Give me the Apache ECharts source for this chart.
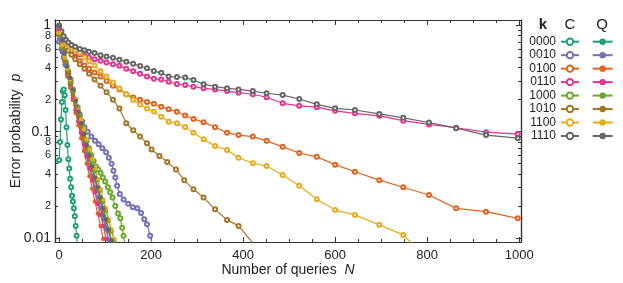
<!DOCTYPE html>
<html>
<head>
<meta charset="utf-8">
<script src="https://cdn.jsdelivr.net/npm/echarts@6/dist/echarts.min.js"></script>
<style>
  html, body { margin: 0; padding: 0; background: #fff; }
  #main { width: 623px; height: 283px; }
</style>
</head>
<body>
<div id="main"></div>
<script>
// k codes and colours (C = hollow markers, Q = filled)
var kCodes = ['0000', '0010', '0100', '0110', '1000', '1010', '1100', '1110'];
var colors = ['#1f9e78', '#7670b5', '#df6420', '#e3338e', '#6aa82c', '#a47524', '#e6ac1c', '#666666'];

// tick values
var xMajor = [0, 200, 400, 600, 800, 1000];
var xMinor = [0, 50, 100, 150, 200, 250, 300, 350, 400, 450, 500, 550, 600, 650, 700, 750, 800, 850, 900, 950, 1000];
var yDecades = [0.01, 0.1, 1];
var yDigits = [0.02, 0.04, 0.06, 0.08, 0.2, 0.4, 0.6, 0.8];
var yMinor = [0.01, 0.02, 0.03, 0.04, 0.05, 0.06, 0.07, 0.08, 0.09, 0.1, 0.2, 0.3, 0.4, 0.5, 0.6, 0.7, 0.8, 0.9, 1];

// ---- C (classical) ----
var nLong = [0, 5, 10, 15, 20, 27, 35, 45, 55, 65, 77, 90, 103, 117, 131, 146, 161, 176, 191, 206, 222, 238, 256, 274, 292, 314, 339, 365, 390, 421, 451, 486, 522, 560, 600, 643, 696, 748, 804, 863, 928, 997];
var pC_1110 = [1.0, 0.88, 0.79, 0.73, 0.69, 0.655, 0.63, 0.60, 0.585, 0.565, 0.55, 0.525, 0.51, 0.495, 0.475, 0.455, 0.435, 0.415, 0.395, 0.372, 0.358, 0.33, 0.327, 0.324, 0.306, 0.28, 0.265, 0.256, 0.25, 0.241, 0.23, 0.221, 0.203, 0.181, 0.166, 0.16, 0.147, 0.135, 0.122, 0.108, 0.093, 0.087];
var pC_0110 = [0.95, 0.82, 0.72, 0.65, 0.61, 0.575, 0.55, 0.535, 0.515, 0.50, 0.48, 0.465, 0.447, 0.432, 0.418, 0.39, 0.37, 0.35, 0.33, 0.315, 0.31, 0.295, 0.281, 0.275, 0.265, 0.256, 0.25, 0.241, 0.233, 0.225, 0.211, 0.185, 0.175, 0.17, 0.157, 0.149, 0.141, 0.127, 0.117, 0.109, 0.099, 0.095];
var pC_0100 = [0.9, 0.8, 0.72, 0.66, 0.6, 0.55, 0.5, 0.46, 0.42, 0.39, 0.36, 0.33, 0.3, 0.27, 0.25, 0.225, 0.21, 0.2, 0.19, 0.183, 0.172, 0.163, 0.154, 0.142, 0.132, 0.123, 0.11, 0.098, 0.093, 0.09, 0.082, 0.072, 0.063, 0.058, 0.049, 0.042, 0.035, 0.03, 0.0254, 0.019, 0.0177, 0.0153];
var pC_1100 = [0.85, 0.78, 0.72, 0.68, 0.65, 0.62, 0.59, 0.55, 0.5, 0.46, 0.42, 0.37, 0.33, 0.29, 0.255, 0.225, 0.2, 0.18, 0.165, 0.155, 0.138, 0.124, 0.12, 0.111, 0.098, 0.0847, 0.0733, 0.0673, 0.0569, 0.0505, 0.0476, 0.0392, 0.031, 0.0231, 0.0183, 0.0165, 0.0133, 0.0107, 0.0062];

var nC_1010 = [0, 5, 10, 15, 20, 27, 35, 45, 55, 65, 77, 90, 103, 117, 131, 146, 161, 176, 191, 201, 218, 235, 254, 272, 292, 314, 339, 365, 390, 421];
var pC_1010 = [0.85, 0.76, 0.68, 0.62, 0.58, 0.53, 0.48, 0.43, 0.39, 0.35, 0.31, 0.27, 0.235, 0.2, 0.165, 0.12, 0.103, 0.09, 0.078, 0.068, 0.059, 0.052, 0.044, 0.035, 0.0287, 0.0241, 0.0186, 0.0148, 0.013, 0.009];

var nC_0010 = [0, 5, 10, 15, 20, 25, 30, 35, 40, 45, 50, 55, 62, 70, 78, 86, 94, 102, 108, 114, 118, 122, 126, 132, 140, 150, 160, 170, 178, 185, 191, 198, 205];
var pC_0010 = [0.7, 0.6, 0.5, 0.42, 0.35, 0.29, 0.24, 0.2, 0.17, 0.145, 0.125, 0.11, 0.1, 0.09, 0.082, 0.076, 0.07, 0.064, 0.057, 0.05, 0.043, 0.037, 0.031, 0.026, 0.023, 0.021, 0.0195, 0.019, 0.0172, 0.015, 0.0135, 0.0105, 0.008];

var nC_0000 = [0, 2, 4, 6, 8, 10, 12, 14, 16, 18, 20, 22, 24, 26, 28, 30, 32, 34, 36, 38, 40];
var pC_0000 = [0.054, 0.08, 0.13, 0.19, 0.24, 0.25, 0.22, 0.16, 0.11, 0.075, 0.055, 0.045, 0.036, 0.03, 0.025, 0.022, 0.019, 0.016, 0.013, 0.0105, 0.008];

var nC_1000 = [0, 5, 10, 15, 20, 25, 30, 35, 40, 45, 50, 55, 60, 65, 70, 75, 80, 85, 90, 95, 100, 106, 111, 116, 122, 128, 133, 137, 140, 144];
var pC_1000 = [0.85, 0.68, 0.56, 0.45, 0.37, 0.31, 0.25, 0.2, 0.165, 0.138, 0.115, 0.098, 0.082, 0.07, 0.06, 0.053, 0.047, 0.044, 0.041, 0.037, 0.034, 0.03, 0.027, 0.024, 0.02, 0.017, 0.0153, 0.0125, 0.0105, 0.008];

// ---- Q (quantum) ----
var nQ = [0, 6, 12, 18, 24, 30, 36, 42, 48, 54, 60, 66, 72, 78, 84, 90, 96, 102, 108, 114, 120, 126];
var pQ_0000 = [0.8, 0.6, 0.46, 0.36, 0.28, 0.22, 0.175, 0.14, 0.11, 0.088, 0.07, 0.055, 0.044, 0.035, 0.028, 0.022, 0.0165, 0.0125, 0.0095];
var pQ_0010 = [0.75, 0.56, 0.43, 0.33, 0.26, 0.2, 0.16, 0.125, 0.098, 0.077, 0.061, 0.048, 0.038, 0.03, 0.024, 0.019, 0.015, 0.012, 0.0095];
var pQ_0100 = [0.85, 0.62, 0.46, 0.34, 0.26, 0.2, 0.15, 0.115, 0.087, 0.066, 0.05, 0.038, 0.029, 0.022, 0.017, 0.013, 0.0098];
var pQ_0110 = [0.88, 0.65, 0.48, 0.36, 0.28, 0.21, 0.16, 0.125, 0.097, 0.075, 0.058, 0.045, 0.035, 0.027, 0.021, 0.0165, 0.013, 0.0098];
var pQ_1000 = [0.8, 0.62, 0.48, 0.38, 0.3, 0.24, 0.19, 0.155, 0.125, 0.1, 0.082, 0.066, 0.053, 0.043, 0.035, 0.028, 0.022, 0.018, 0.0145, 0.0115, 0.0095];
var pQ_1010 = [0.82, 0.62, 0.47, 0.36, 0.28, 0.22, 0.175, 0.14, 0.11, 0.088, 0.07, 0.056, 0.045, 0.036, 0.029, 0.023, 0.018, 0.0145, 0.0115, 0.009];
var pQ_1100 = [0.85, 0.65, 0.5, 0.39, 0.31, 0.25, 0.2, 0.16, 0.13, 0.105, 0.085, 0.068, 0.055, 0.045, 0.036, 0.029, 0.023, 0.019, 0.015, 0.012, 0.0098, 0.0078];
var pQ_1110 = [0.98, 0.72, 0.54, 0.41, 0.32, 0.25, 0.195, 0.155, 0.12, 0.095, 0.075, 0.06, 0.047, 0.037, 0.03, 0.024, 0.019, 0.015, 0.012, 0.0095];

var cData = {
  '0000': [nC_0000, pC_0000], '0010': [nC_0010, pC_0010], '0100': [nLong, pC_0100], '0110': [nLong, pC_0110],
  '1000': [nC_1000, pC_1000], '1010': [nC_1010, pC_1010], '1100': [nLong, pC_1100], '1110': [nLong, pC_1110]
};
var qData = {
  '0000': pQ_0000, '0010': pQ_0010, '0100': pQ_0100, '0110': pQ_0110,
  '1000': pQ_1000, '1010': pQ_1010, '1100': pQ_1100, '1110': pQ_1110
};

var font = 'Liberation Sans, Arial, sans-serif';
var ink = '#222';

function makeSeries(name, color, ns, ps, hollow) {
  return {
    name: name,
    type: 'line',
    data: ps.map(function (p, i) { return [ns[i], p]; }),
    symbol: hollow ? 'emptyCircle' : 'circle',
    symbolSize: hollow ? 4 : 4.5,
    lineStyle: { width: 1.2, color: color },
    itemStyle: { color: color, borderWidth: hollow ? 0.8 : 0 },
    emphasis: { disabled: true },
    clip: true,
    z: hollow ? 2 : 3
  };
}

var series = [];
kCodes.forEach(function (k, i) {
  series.push(makeSeries('C' + k, colors[i], cData[k][0], cData[k][1], true));
});
kCodes.forEach(function (k, i) {
  series.push(makeSeries('Q' + k, colors[i], nQ, qData[k], false));
});

var axisColor = '#333';
var nameStyle = { color: ink, rich: { t: { fontSize: 14, fontFamily: font, color: ink }, i: { fontSize: 14, fontStyle: 'italic', fontFamily: font, color: ink } } };

function xAx(pos, ticks, len, labels, withName) {
  var a = {
    type: 'value', position: pos, min: -9, max: 1004,
    axisLine: { show: true, onZero: false, lineStyle: { color: axisColor, width: 1.2 } },
    axisTick: { show: true, inside: true, length: len, customValues: ticks, lineStyle: { color: axisColor, width: 1 } },
    axisLabel: labels ? {
      customValues: xMajor, fontSize: 13, color: ink, margin: 7, fontFamily: font,
      hideOverlap: false, formatter: function (v) { return String(v); }
    } : { show: false },
    splitLine: { show: false }
  };
  if (withName) {
    a.name = '{t|Number of queries  }{i|N}';
    a.nameLocation = 'middle';
    a.nameGap = 21;
    a.nameMoveOverlap = false;
    a.nameTextStyle = nameStyle;
  }
  return a;
}
// labelKind: 'decade' (0.01, 0.1, 1), 'digit' (2,4,6,8) or null
function yAx(pos, ticks, len, labelKind, withName) {
  var a = {
    type: 'log', logBase: 10, position: pos, min: 0.00917, max: 1.124,
    axisLine: { show: true, onZero: false, lineStyle: { color: axisColor, width: 1.2 } },
    axisTick: { show: true, inside: true, length: len, customValues: ticks, lineStyle: { color: axisColor, width: 1 } },
    axisLabel: { show: false },
    splitLine: { show: false }
  };
  if (labelKind === 'decade') {
    a.axisLabel = {
      customValues: yDecades, margin: 4, color: ink, fontFamily: font, fontSize: 14,
      hideOverlap: false,
      formatter: function (v) { return v >= 0.5 ? '1' : (v >= 0.05 ? '0.1' : '0.01'); }
    };
  } else if (labelKind === 'digit') {
    a.axisLabel = {
      customValues: yDigits, margin: 4, color: ink, fontFamily: font, fontSize: 11,
      hideOverlap: false,
      formatter: function (v) {
        var e = Math.floor(Math.log10(v) + 1e-6);
        return String(Math.round(v / Math.pow(10, e)));
      }
    };
  }
  if (withName) {
    a.name = '{t|Error probability  }{i|p}';
    a.nameLocation = 'middle';
    a.nameGap = 32;
    a.nameMoveOverlap = false;
    a.nameTextStyle = nameStyle;
  }
  return a;
}

var legendBase = {
  orient: 'vertical', top: 35.7, itemWidth: 18, itemHeight: 8, itemGap: 1.47,
  selectedMode: false, padding: 0,
  textStyle: { fontSize: 12, color: ink, fontFamily: font }
};

var myChart = echarts.init(document.getElementById('main'));
myChart.setOption({
  animation: false,
  textStyle: { fontFamily: font },
  grid: { left: 55, right: 102, top: 20, bottom: 41, containLabel: false, outerBoundsMode: 'none' },
  xAxis: [
    xAx('bottom', xMajor, 5, true, true),
    xAx('bottom', xMinor, 3, false, false),
    xAx('top', xMajor, 5, false, false),
    xAx('top', xMinor, 3, false, false)
  ],
  yAxis: [
    yAx('left', yDecades, 5, 'decade', true),
    yAx('left', yMinor, 3, 'digit', false),
    yAx('right', yDecades, 5, null, false),
    yAx('right', yMinor, 3, null, false)
  ],
  legend: [
    Object.assign({}, legendBase, {
      data: kCodes.map(function (k) { return 'C' + k; }),
      right: 43, align: 'right',
      formatter: function (n) { return n.slice(1); }
    }),
    Object.assign({}, legendBase, {
      data: kCodes.map(function (k) { return 'Q' + k; }),
      right: 2, itemWidth: 20, align: 'left',
      formatter: function () { return ' '; }
    })
  ],
  graphic: [
    { type: 'text', x: 543, y: 25, style: { text: 'k', font: 'bold 15px Liberation Sans', fill: ink, textAlign: 'center', textVerticalAlign: 'middle', verticalAlign: 'middle' } },
    { type: 'text', x: 570, y: 25, style: { text: 'C', font: '15px Liberation Sans', fill: ink, textAlign: 'center', textVerticalAlign: 'middle', verticalAlign: 'middle' } },
    { type: 'text', x: 602, y: 25, style: { text: 'Q', font: '15px Liberation Sans', fill: ink, textAlign: 'center', textVerticalAlign: 'middle', verticalAlign: 'middle' } }
  ],
  series: series
});
</script>
</body>
</html>
